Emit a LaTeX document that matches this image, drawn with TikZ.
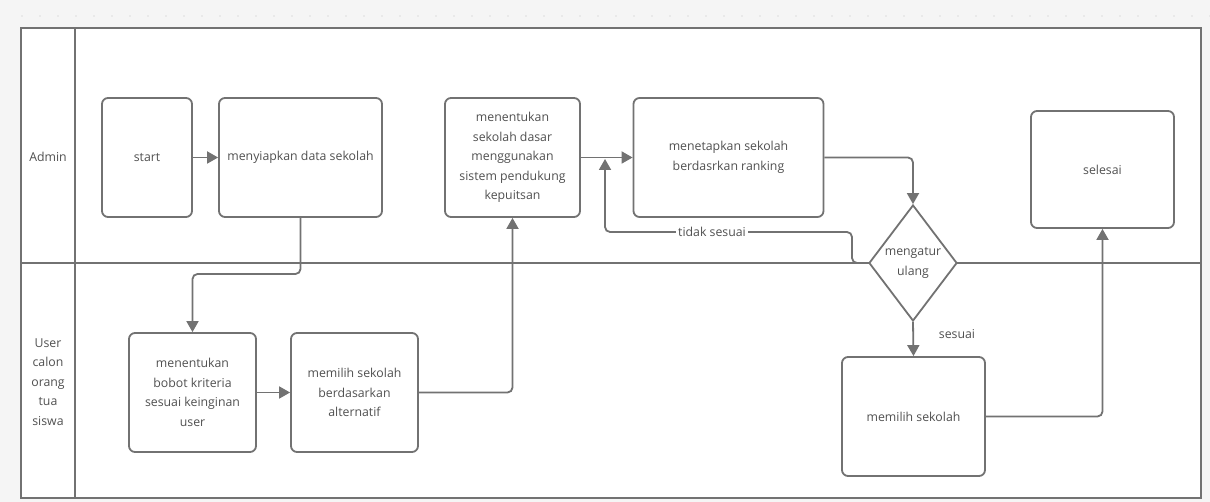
\documentclass[tikz,border=0pt]{standalone}
\usepackage{fontspec}
\setmainfont{Open Sans}
\usetikzlibrary{arrows.meta,shapes.geometric}
\definecolor{lineg}{HTML}{727272}
\definecolor{txtg}{HTML}{505050}
\definecolor{bgg}{HTML}{F5F5F5}
\definecolor{dotg}{HTML}{DDDDDD}
\tikzset{
  lbl/.style={text=txtg, font=\fontsize{12.3}{19.5}\selectfont},
  task/.style={lbl, draw=lineg, line width=1.8pt, rounded corners=6pt, fill=white,
    align=center, inner sep=2pt},
  decide/.style={lbl, diamond, draw=lineg, line width=1.8pt, fill=white, align=center,
    inner sep=0pt, minimum width=88pt, minimum height=116pt},
  flow/.style={draw=lineg, line width=1.8pt, rounded corners=5pt,
    -{Triangle[length=11pt,width=12pt]}},
  lane/.style={draw=lineg, line width=1.5pt},
  lanelabel/.style={lbl, align=center},
  flowlabel/.style={lbl, inner sep=2pt}
}
\begin{document}
\begin{tikzpicture}[x=1pt,y=-1pt]
  % canvas and faint grid dots along the top
  \fill[bgg] (0,0) rectangle (1210,502);
  \useasboundingbox (0,0) rectangle (1210,502);
  \foreach \i in {0,...,66} {\fill[dotg] (22+18*\i,16) circle (0.8pt);}

  % swimlane frame
  \filldraw[fill=white, lane] (21,28) rectangle (1201,498);
  \draw[lane] (75,28) -- (75,498);
  \draw[lane] (21,263) -- (1201,263);
  \node[lanelabel] (laneA) at (48,157) {Admin};
  \node[lanelabel] (laneU) at (48,382) {User\\calon\\orang\\tua\\siswa};

  % activities
  \node[task, minimum width=90pt, minimum height=119pt] (start) at (147,157.5) {start};
  \node[task, minimum width=163pt, minimum height=119pt] (prep) at (300.5,157.5) {menyiapkan data sekolah};
  \node[task, minimum width=127pt, minimum height=119pt] (bobot) at (192.5,392.5) {menentukan\\bobot kriteria\\sesuai keinginan\\user};
  \node[task, minimum width=127pt, minimum height=119pt] (alt) at (354.5,392.5) {memilih sekolah\\berdasarkan\\alternatif};
  \node[task, minimum width=135pt, minimum height=119pt] (spk) at (512.5,157.5) {menentukan\\sekolah dasar\\menggunakan\\sistem pendukung\\kepuitsan};
  \node[task, minimum width=190pt, minimum height=119pt] (rank) at (728.5,157.5) {menetapkan sekolah\\berdasrkan ranking};
  \node[decide] (dec) at (913,263) {mengatur\\ulang};
  \node[task, minimum width=143pt, minimum height=119pt] (pick) at (913.5,416.5) {memilih sekolah};
  \node[task, minimum width=143pt, minimum height=117pt] (end) at (1102.5,169.5) {selesai};

  % routing points
  \coordinate (k1) at (0,274);
  \coordinate (r1) at (852,263);
  \coordinate (r2) at (852,232);
  \coordinate (r3) at (605,232);
  \coordinate (r4) at (605,159);

  % connectors
  \draw[flow] (start) -- (prep);
  \draw[flow] (prep.south) -- (prep.south |- k1) -| (bobot.north);
  \draw[flow] (bobot.east) -- (alt.west);
  \draw[flow] (alt.east) -| (spk.south);
  \draw[flow] (spk.east) -- (rank.west);
  \draw[flow] (rank.east) -| (dec.north);
  \draw[flow] (dec.west) -- (r1) -- (r2) -- (r3) -- (r4);
  \node[flowlabel, fill=white] (tl) at (712,232) {tidak sesuai};
  \draw[flow] (dec.south) -- (pick.north);
  \node[flowlabel] (sl) at (957,334) {sesuai};
  \draw[flow] (pick.east) -| (end.south);
\end{tikzpicture}
\end{document}
